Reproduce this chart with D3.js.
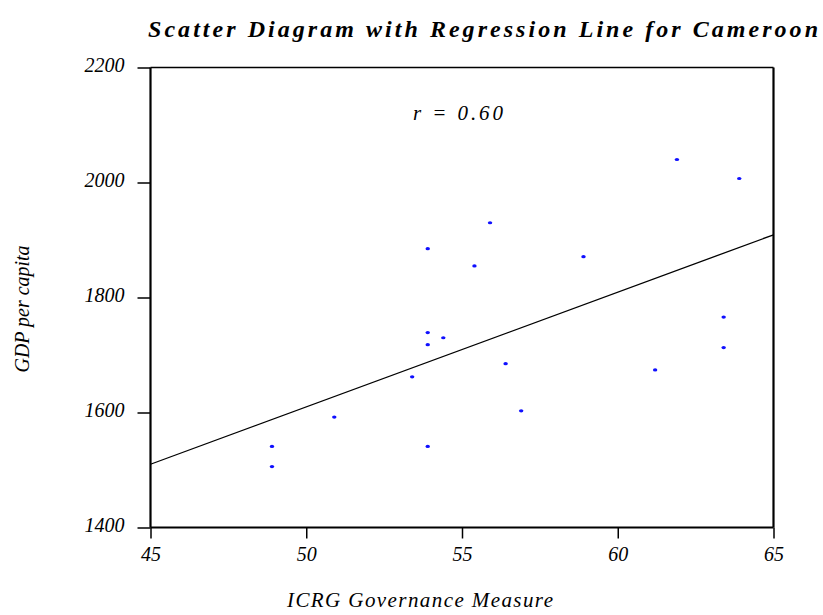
<!DOCTYPE html>
<html><head><meta charset="utf-8">
<script src="https://cdn.jsdelivr.net/npm/d3@7/dist/d3.min.js"></script>
<style>body{margin:0;background:#fff}svg{display:block}</style>
</head><body>
<script>
const xValues = [48.9, 48.9, 50.9, 53.4, 53.9, 53.9, 53.9, 53.9, 54.4, 55.4, 55.9, 56.4, 56.9, 58.9, 61.2, 61.9, 63.4, 63.4, 63.9];
const yValues = [1541, 1506, 1592, 1662, 1885, 1739, 1718, 1541, 1730, 1855, 1930, 1685, 1603, 1871, 1674, 2040, 1766, 1713, 2007];
const lineX = [45, 65];
const lineY = [1510, 1909];
const xTicks = [45, 50, 55, 60, 65];
const yTicks = [1400, 1600, 1800, 2000, 2200];
const title = "Scatter Diagram with Regression Line for Cameroon";
const xLabel = "ICRG Governance Measure";
const yLabel = "GDP per capita";
const rLabel = "r = 0.60";

const W = 823, H = 615;
const m = {left: 150.5, right: 773.5, top: 67.5, bottom: 527.5};
const svg = d3.select("body").append("svg").attr("width", W).attr("height", H);
const x = d3.scaleLinear().domain([45, 65]).range([m.left, m.right]);
const y = d3.scaleLinear().domain([1400, 2200]).range([m.bottom, m.top]);
const font = "'Liberation Serif', 'Times New Roman', serif";

// axes
const xAxis = svg.append("g").attr("transform", `translate(0,${m.bottom})`)
  .call(d3.axisBottom(x).tickValues(xTicks).tickSize(11).tickPadding(8).tickFormat(d3.format("d")));
const yAxis = svg.append("g").attr("transform", `translate(${m.left},0)`)
  .call(d3.axisLeft(y).tickValues(yTicks).tickSize(13).tickPadding(13).tickFormat(d3.format("d")));
[xAxis, yAxis].forEach(g => {
  g.attr("font-family", null).attr("font-size", null);
  g.select(".domain").remove();
  g.selectAll(".tick line").attr("stroke", "#000").attr("stroke-width", 1.5);
  g.selectAll(".tick text")
    .style("font-family", font).style("font-style", "italic")
    .style("font-size", "20px").attr("fill", "#000");
});
yAxis.selectAll(".tick text").attr("dy", "0.22em");

// frame
svg.append("line").attr("x1", m.left).attr("x2", m.right).attr("y1", m.top).attr("y2", m.top)
  .attr("stroke", "#000").attr("stroke-width", 1.5);
svg.append("line").attr("x1", m.left).attr("x2", m.right).attr("y1", m.bottom).attr("y2", m.bottom)
  .attr("stroke", "#000").attr("stroke-width", 2.2);
svg.append("line").attr("x1", m.left).attr("x2", m.left).attr("y1", m.top).attr("y2", m.bottom)
  .attr("stroke", "#000").attr("stroke-width", 2.2);
svg.append("line").attr("x1", m.right).attr("x2", m.right).attr("y1", m.top).attr("y2", m.bottom)
  .attr("stroke", "#000").attr("stroke-width", 2.2);

// regression line
svg.append("line").attr("x1", x(lineX[0])).attr("y1", y(lineY[0]))
  .attr("x2", x(lineX[1])).attr("y2", y(lineY[1]))
  .attr("stroke", "#000").attr("stroke-width", 1.3);

// points
const pts = xValues.map((v, i) => ({x: v, y: yValues[i]}));
svg.append("g").selectAll("ellipse").data(pts).join("ellipse")
  .attr("cx", d => x(d.x)).attr("cy", d => y(d.y)).attr("rx", 2.2).attr("ry", 1.6)
  .attr("fill", "#1010ff");

// texts
svg.append("text").attr("x", 148).attr("y", 37)
  .style("font-family", font).style("font-style", "italic").style("font-weight", "bold")
  .style("font-size", "24px")
  .attr("textLength", 670).attr("lengthAdjust", "spacing").text(title);
svg.append("text").attr("x", 420).attr("y", 607).attr("text-anchor", "middle")
  .style("font-family", font).style("font-style", "italic").style("font-size", "21px")
  .attr("textLength", 266).attr("lengthAdjust", "spacing").text(xLabel);
svg.append("text").attr("transform", "translate(29,309) rotate(-90)").attr("text-anchor", "middle")
  .style("font-family", font).style("font-style", "italic").style("font-size", "20px")
  .attr("textLength", 127).attr("lengthAdjust", "spacingAndGlyphs").text(yLabel);
svg.append("text").attr("x", 413).attr("y", 120)
  .style("font-family", font).style("font-style", "italic").style("font-size", "21px")
  .attr("textLength", 90).attr("lengthAdjust", "spacing").text(rLabel);
</script>
</body></html>
